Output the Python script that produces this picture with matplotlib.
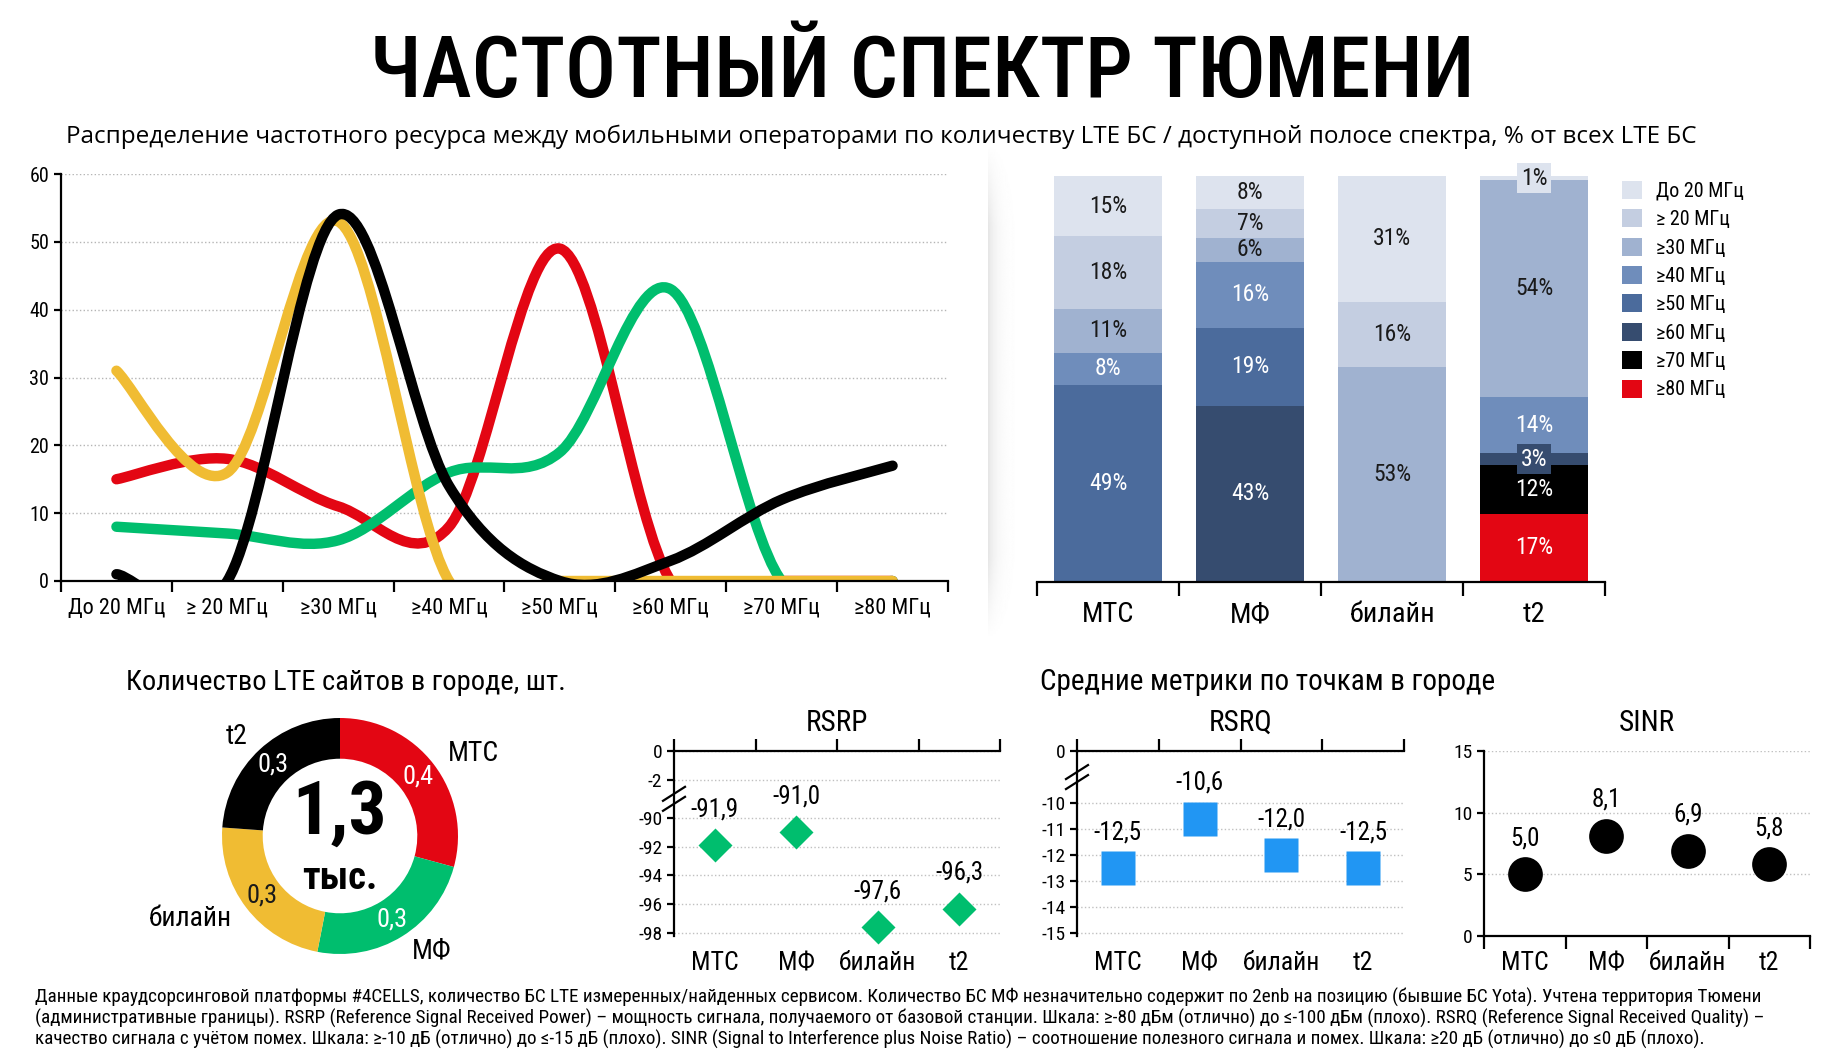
import numpy as np
import matplotlib
matplotlib.use("Agg")
import matplotlib.pyplot as plt
from matplotlib.path import Path
from matplotlib.patches import PathPatch

# Data
bands = ["До 20 МГц", "≥ 20 МГц", "≥30 МГц", "≥40 МГц", "≥50 МГц", "≥60 МГц", "≥70 МГц", "≥80 МГц"]
operators = ["МТС", "МФ", "билайн", "t2"]
mts = [15, 18, 11, 8, 49, 0, 0, 0]
mf = [8, 7, 6, 16, 19, 43, 0, 0]
beeline = [31, 16, 53, 0, 0, 0, 0, 0]
t2 = [1, 0, 54, 14, 0, 3, 12, 17]
site_counts = [0.38, 0.31, 0.30, 0.31]
rsrp = [-91.9, -91.0, -97.6, -96.3]
rsrq = [-12.5, -10.6, -12.0, -12.5]
sinr = [5.0, 8.1, 6.9, 5.8]

op_colors = ["#E30613", "#00BE6E", "#F0BC33", "#000000"]
band_colors = ["#DDE3EE", "#C4CEE1", "#A0B2D0", "#6F8DBB", "#4B6B9C", "#364C6F", "#000000", "#E30613"]

NARROW = ["Roboto Condensed", "Liberation Sans Narrow", "Roboto", "DejaVu Sans"]
plt.rcParams["font.family"] = NARROW

W, H = 1838, 1059


# Axes rectangle from pixel box of the reference
def rect(l, t, r, b):
    return [l / W, 1 - b / H, (r - l) / W, (b - t) / H]


def fx(x):
    return x / W


def fy(y):
    return 1 - y / H


# Smooth (Excel-like) bezier path through the points
def smooth_path(xs, ys):
    pts = np.column_stack([xs, ys]).astype(float)
    verts = [pts[0]]
    codes = [Path.MOVETO]
    for i in range(len(pts) - 1):
        p0 = pts[i - 1] if i > 0 else pts[i]
        p1, p2 = pts[i], pts[i + 1]
        p3 = pts[i + 2] if i + 2 < len(pts) else p2
        verts += [p1 + (p2 - p0) / 6, p2 - (p3 - p1) / 6, p2]
        codes += [Path.CURVE4] * 3
    return Path(verts, codes)


# y scale with a gap between a and b (g = gap size in units)
def broken_scale(a, b, g):
    def fwd(v):
        v = np.asarray(v, float)
        return np.where(v >= a, v, np.where(v <= b, v - b + a - g, a - g * (a - v) / (a - b)))

    def inv(u):
        u = np.asarray(u, float)
        return np.where(u >= a, u, np.where(u <= a - g, u + b - a + g, a - (a - u) * (a - b) / g))

    return fwd, inv


def fmt(v):
    return f"{v:.1f}".replace(".", ",")


fig = plt.figure(figsize=(W / 100, H / 100), dpi=100)

fig.text(fx(922), fy(74), "ЧАСТОТНЫЙ СПЕКТР ТЮМЕНИ", ha="center", va="center",
         fontsize=61, fontweight="medium")
fig.text(fx(66), fy(137), "Распределение частотного ресурса между мобильными операторами по количеству LTE БС / доступной полосе спектра, % от всех LTE БС",
         ha="left", va="center", fontsize=17.5, family=["Open Sans", "DejaVu Sans"])

# Line chart
ax1 = fig.add_axes(rect(61, 174, 948, 581))
xs = np.arange(len(bands))
for vals, col in zip([mts, mf, beeline, t2], op_colors):
    ax1.add_patch(PathPatch(smooth_path(xs, vals), fill=False, edgecolor=col, lw=7.5,
                            capstyle="round", joinstyle="round"))
ax1.set_xlim(-0.5, 7.5)
ax1.set_ylim(0, 60)
ax1.set_yticks(range(0, 61, 10))
ax1.set_xticks(xs, bands)
ax1.set_xticks(np.arange(-0.5, 8, 1), minor=True)
ax1.yaxis.grid(True, ls=":", color="#b5b5b5", lw=1)
ax1.set_axisbelow(True)
for s in ["top", "right"]:
    ax1.spines[s].set_visible(False)
for s in ["left", "bottom"]:
    ax1.spines[s].set_linewidth(1.6)
ax1.tick_params(axis="x", which="major", length=0, pad=12, labelsize=16)
ax1.tick_params(axis="x", which="minor", length=8, width=1.6)
ax1.tick_params(axis="y", length=5, width=1.6, labelsize=14.5)

# shadow separator
axs = fig.add_axes(rect(988, 143, 1020, 640))
prof = np.exp(-np.linspace(0, 4, 40))
vert = np.clip(np.minimum(np.linspace(0, 6, 200), np.linspace(6, 0, 200)), 0, 1)
axs.imshow(1 - 0.10 * np.outer(vert, prof), cmap="gray", vmin=0, vmax=1, aspect="auto")
axs.axis("off")

# Stacked bars
ax2 = fig.add_axes(rect(1037, 176, 1605, 582))
data = np.array([mts, mf, beeline, t2], float)
share = data / data.sum(axis=1, keepdims=True) * 100
bottom = np.zeros(len(operators))
handles = {}
for j in reversed(range(len(bands))):
    bars = ax2.bar(range(len(operators)), share[:, j], bottom=bottom, width=0.76,
                   color=band_colors[j], label=bands[j])
    handles[j] = bars
    tc = "#1a1a1a" if j < 3 else "white"
    for i in range(len(operators)):
        if data[i, j] > 0:
            box = None
            if share[i, j] < 5:
                box = dict(boxstyle="square,pad=0.15", fc=band_colors[j], ec="none")
            ax2.text(i, bottom[i] + share[i, j] / 2, f"{int(data[i, j])}%", ha="center", va="center",
                     fontsize=17, color=tc, bbox=box)
    bottom += share[:, j]
ax2.set_xlim(-0.5, 3.5)
ax2.set_ylim(0, 100)
ax2.set_xticks(range(4), operators)
ax2.set_xticks(np.arange(-0.5, 4, 1), minor=True)
ax2.set_yticks([])
for s in ["top", "right", "left"]:
    ax2.spines[s].set_visible(False)
ax2.spines["bottom"].set_linewidth(1.6)
ax2.tick_params(axis="x", which="major", length=0, pad=14, labelsize=20.5)
ax2.tick_params(axis="x", which="minor", length=10, width=1.6)
fig.legend([handles[j] for j in range(len(bands))], bands, loc="upper left",
           bbox_to_anchor=(fx(1622), fy(181)), frameon=False, fontsize=14.5,
           handlelength=1.0, handleheight=1.0, labelspacing=0.42, handletextpad=0.7,
           borderaxespad=0, borderpad=0)

# Section titles
fig.text(fx(126), fy(682), "Количество LTE сайтов в городе, шт.", fontsize=20.5, va="center")
fig.text(fx(1040), fy(682), "Средние метрики по точкам в городе", fontsize=21, va="center")

# Donut
R = 118
lim = 1.7
size = 2 * lim * R
ax3 = fig.add_axes([fx(340 - size / 2), fy(836 + size / 2), size / W, size / H])
ax3.pie(site_counts, colors=op_colors, startangle=90, counterclock=False, radius=1,
        wedgeprops=dict(width=0.345, edgecolor="none"))
ax3.set_xlim(-lim, lim)
ax3.set_ylim(-lim, lim)
ax3.set_aspect("equal")
ax3.axis("off")
total = sum(site_counts)
cum = 0
for v, name, col in zip(site_counts, operators, op_colors):
    th = np.radians(360 * (cum + v / 2) / total)
    cum += v
    tc = "#1a1a1a" if col == "#F0BC33" else "white"
    ax3.text(0.83 * np.sin(th), 0.83 * np.cos(th), fmt(v), ha="center", va="center", fontsize=19, color=tc)
    ax3.text(1.15 * np.sin(th), 1.15 * np.cos(th), name, ha="left" if np.sin(th) > 0 else "right",
             va="center", fontsize=20)
ax3.text(0, 0.19, fmt(total), ha="center", va="center", fontsize=54, fontweight="bold")
ax3.text(0, -0.36, "тыс.", ha="center", va="center", fontsize=28, fontweight="bold")


# Small metric charts
def small_chart(box, title, values, marker, color, msize, ticks, top_axis, scale=None, ylim=None):
    ax = fig.add_axes(rect(*box))
    if scale is not None:
        ax.set_yscale("function", functions=scale)
    xi = np.arange(len(operators))
    ax.plot(xi, values, ls="none", marker=marker, color=color, markersize=msize, mec="none", clip_on=False)
    for i, v in zip(xi, values):
        ax.annotate(fmt(v), (i, v), xytext=(0, 26), textcoords="offset points",
                    ha="center", va="center", fontsize=18)
    ax.set_xlim(-0.5, 3.5)
    ax.set_ylim(*ylim)
    ax.set_yticks(ticks)
    ax.set_yticklabels([str(t) for t in ticks])
    ax.set_xticks(xi, operators)
    ax.set_xticks(np.arange(-0.5, 4, 1), minor=True)
    ax.yaxis.grid(True, ls=":", color="#c0c0c0", lw=1)
    ax.set_axisbelow(True)
    ax.spines["right"].set_visible(False)
    ax.spines["top" if not top_axis else "bottom"].set_visible(False)
    for s in ax.spines.values():
        s.set_linewidth(1.6)
    ax.tick_params(axis="x", which="major", length=0, pad=11, labelsize=18.5)
    ax.tick_params(axis="x", which="minor", length=9, width=1.6,
                   top=top_axis, bottom=not top_axis)
    ax.tick_params(axis="y", length=5, width=1.6, labelsize=14)
    fig.text((box[0] + box[2]) / 2 / W, fy(723), title, ha="center", va="center", fontsize=21)
    return ax


def break_marks(ax, yfrac):
    bb = ax.get_window_extent()
    dx = 11 / bb.width
    for off in (-5, 5):
        y0 = yfrac + off / bb.height
        ax.plot([-dx, dx], [y0 - 7 / bb.height, y0 + 7 / bb.height], color="black",
                lw=1.6, transform=ax.transAxes, clip_on=False)


ax4 = small_chart((674, 751, 1000, 936), "RSRP", rsrp, "D", op_colors[1], 17,
                  [0, -2, -90, -92, -94, -96, -98], True, broken_scale(-2, -90, 2.64), (-98.2, 0))
ax5 = small_chart((1077, 751, 1404, 936), "RSRQ", rsrq, "s", "#2196F3", 25,
                  [0, -10, -11, -12, -13, -14, -15], True, broken_scale(0, -10, 2.0), (-15.1, 0))
ax6 = small_chart((1484, 751, 1810, 936), "SINR", sinr, "o", "black", 25,
                  [0, 5, 10, 15], False, None, (0, 15))


def gap_frac(ax, v):
    t = ax.transData.transform((0, v))[1]
    bb = ax.get_window_extent()
    return (t - bb.y0) / bb.height


break_marks(ax4, gap_frac(ax4, -46))
break_marks(ax5, gap_frac(ax5, -5))

# Footer
notes = [
    "Данные краудсорсинговой платформы #4CELLS, количество БС LTE измеренных/найденных сервисом. Количество БС МФ незначительно содержит по 2enb на позицию (бывшие БС Yota). Учтена территория Тюмени",
    "(административные границы). RSRP (Reference Signal Received Power) – мощность сигнала, получаемого от базовой станции. Шкала: ≥-80 дБм (отлично) до ≤-100 дБм (плохо). RSRQ (Reference Signal Received Quality) –",
    "качество сигнала с учётом помех. Шкала: ≥-10 дБ (отлично) до ≤-15 дБ (плохо). SINR (Signal to Interference plus Noise Ratio) – соотношение полезного сигнала и помех. Шкала: ≥20 дБ (отлично) до ≤0 дБ (плохо).",
]
for k, line in enumerate(notes):
    fig.text(fx(35), fy(997 + 21 * k), line, fontsize=13.8, va="center")

fig.savefig("out.png", dpi=100)
